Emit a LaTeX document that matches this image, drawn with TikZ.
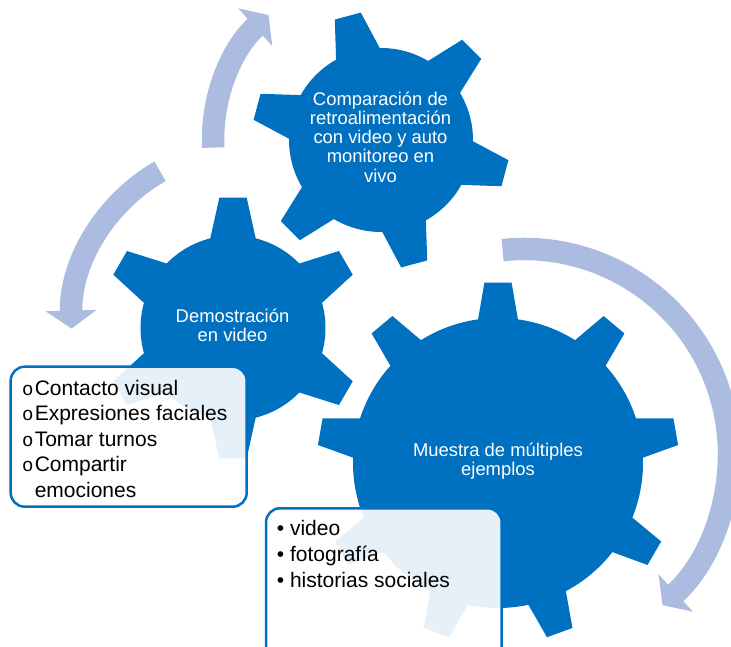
\documentclass[tikz,border=0pt]{standalone}
\usepackage{fontspec}
\setmainfont{Liberation Sans}
\newfontfamily\bulfont{Liberation Mono}
\usetikzlibrary{calc,arrows.meta}

\definecolor{gearblue}{HTML}{0070C0}
\definecolor{arrowblue}{RGB}{171,188,224}

% gear: centre, teeth, first tooth angle, root r, tip r, half base angle, half tip angle
\newcommand{\gear}[7]{%
  \begin{scope}[shift={(#1)}]
    \fill[gearblue] ({#3-#6}:#4)
      \foreach \k [evaluate=\k as \a using #3+(\k-1)*360/#2] in {1,...,#2}{
        -- ({\a-#6}:#4) -- ({\a-#7}:#5) -- ({\a+#7}:#5) -- ({\a+#6}:#4)
        arc[start angle=\a+#6, end angle=\a+360/#2-#6, radius=#4]
      } -- cycle;
  \end{scope}}
\newcommand{\bul}{\makebox[12.6pt][l]{\bulfont\fontsize{19}{19}\selectfont o}}

\begin{document}
\begin{tikzpicture}
  [x=1pt,y=1pt,
   cyc/.style={draw=arrowblue,line width=22.5pt,-{Triangle[width=50pt,length=18pt]}},
   listbox/.style={draw=gearblue,line width=2.5pt,rounded corners=14pt,fill=white,fill opacity=0.9},
   geartext/.style={text=white,align=center,inner sep=0pt,font=\fontsize{18.4}{19.2}\selectfont},
   listtext/.style={anchor=north west,inner sep=0pt,align=left,font=\fontsize{21}{25.5}\selectfont}]
  \useasboundingbox (0,0) rectangle (731,646);
  \clip (0,0) rectangle (731,646);
  \fill[white] (0,0) rectangle (731,646);

  % gear centres
  \coordinate (g1) at (498,183);
  \coordinate (g2) at (233,318);
  \coordinate (g3) at (381,506);

  \gear{g1}{9}{90}{145}{181}{7.9}{4.3}
  \gear{g2}{6}{90}{92.5}{131}{14.2}{6}
  \gear{g3}{6}{45}{92}{129}{14.2}{6}

  % circular arrows
  \coordinate (ca) at (381,506);
  \coordinate (cb) at (247.5,322);
  \coordinate (cc) at (524,192);
  \draw[cyc] ([shift={(182.6:168)}]ca) arc[start angle=182.6, end angle=132, radius=168];
  \draw[cyc] ([shift={(119.8:176)}]cb) arc[start angle=119.8, end angle=181.5, radius=176];
  \draw[cyc] ([shift={(96:205)}]cc) arc[start angle=96, end angle=-47.5, radius=205];

  % lists
  \draw[listbox] (10.7,139.3) rectangle (246.7,279.3);
  \draw[listbox] (266,-20) rectangle (501.7,137.7);

  \node[geartext] (t1) at (498,185) {Muestra de múltiples\\ejemplos};
  \node[geartext] (t2) at (232.5,321) {Demostración\\en video};
  \node[geartext] (t3) at (380.5,509) {Comparación de\\retroalimentación\\con video y auto\\monitoreo en\\vivo};

  \node[listtext] (l1) at (22,266.3) {\bul Contacto visual\\\bul Expresiones faciales\\\bul Tomar turnos\\\bul Compartir\\\hphantom{\bul}emociones};
  \node[listtext,font=\fontsize{21}{26}\selectfont] (l2) at (276.7,126.3) {• video\\• fotografía\\• historias sociales};
\end{tikzpicture}
\end{document}
